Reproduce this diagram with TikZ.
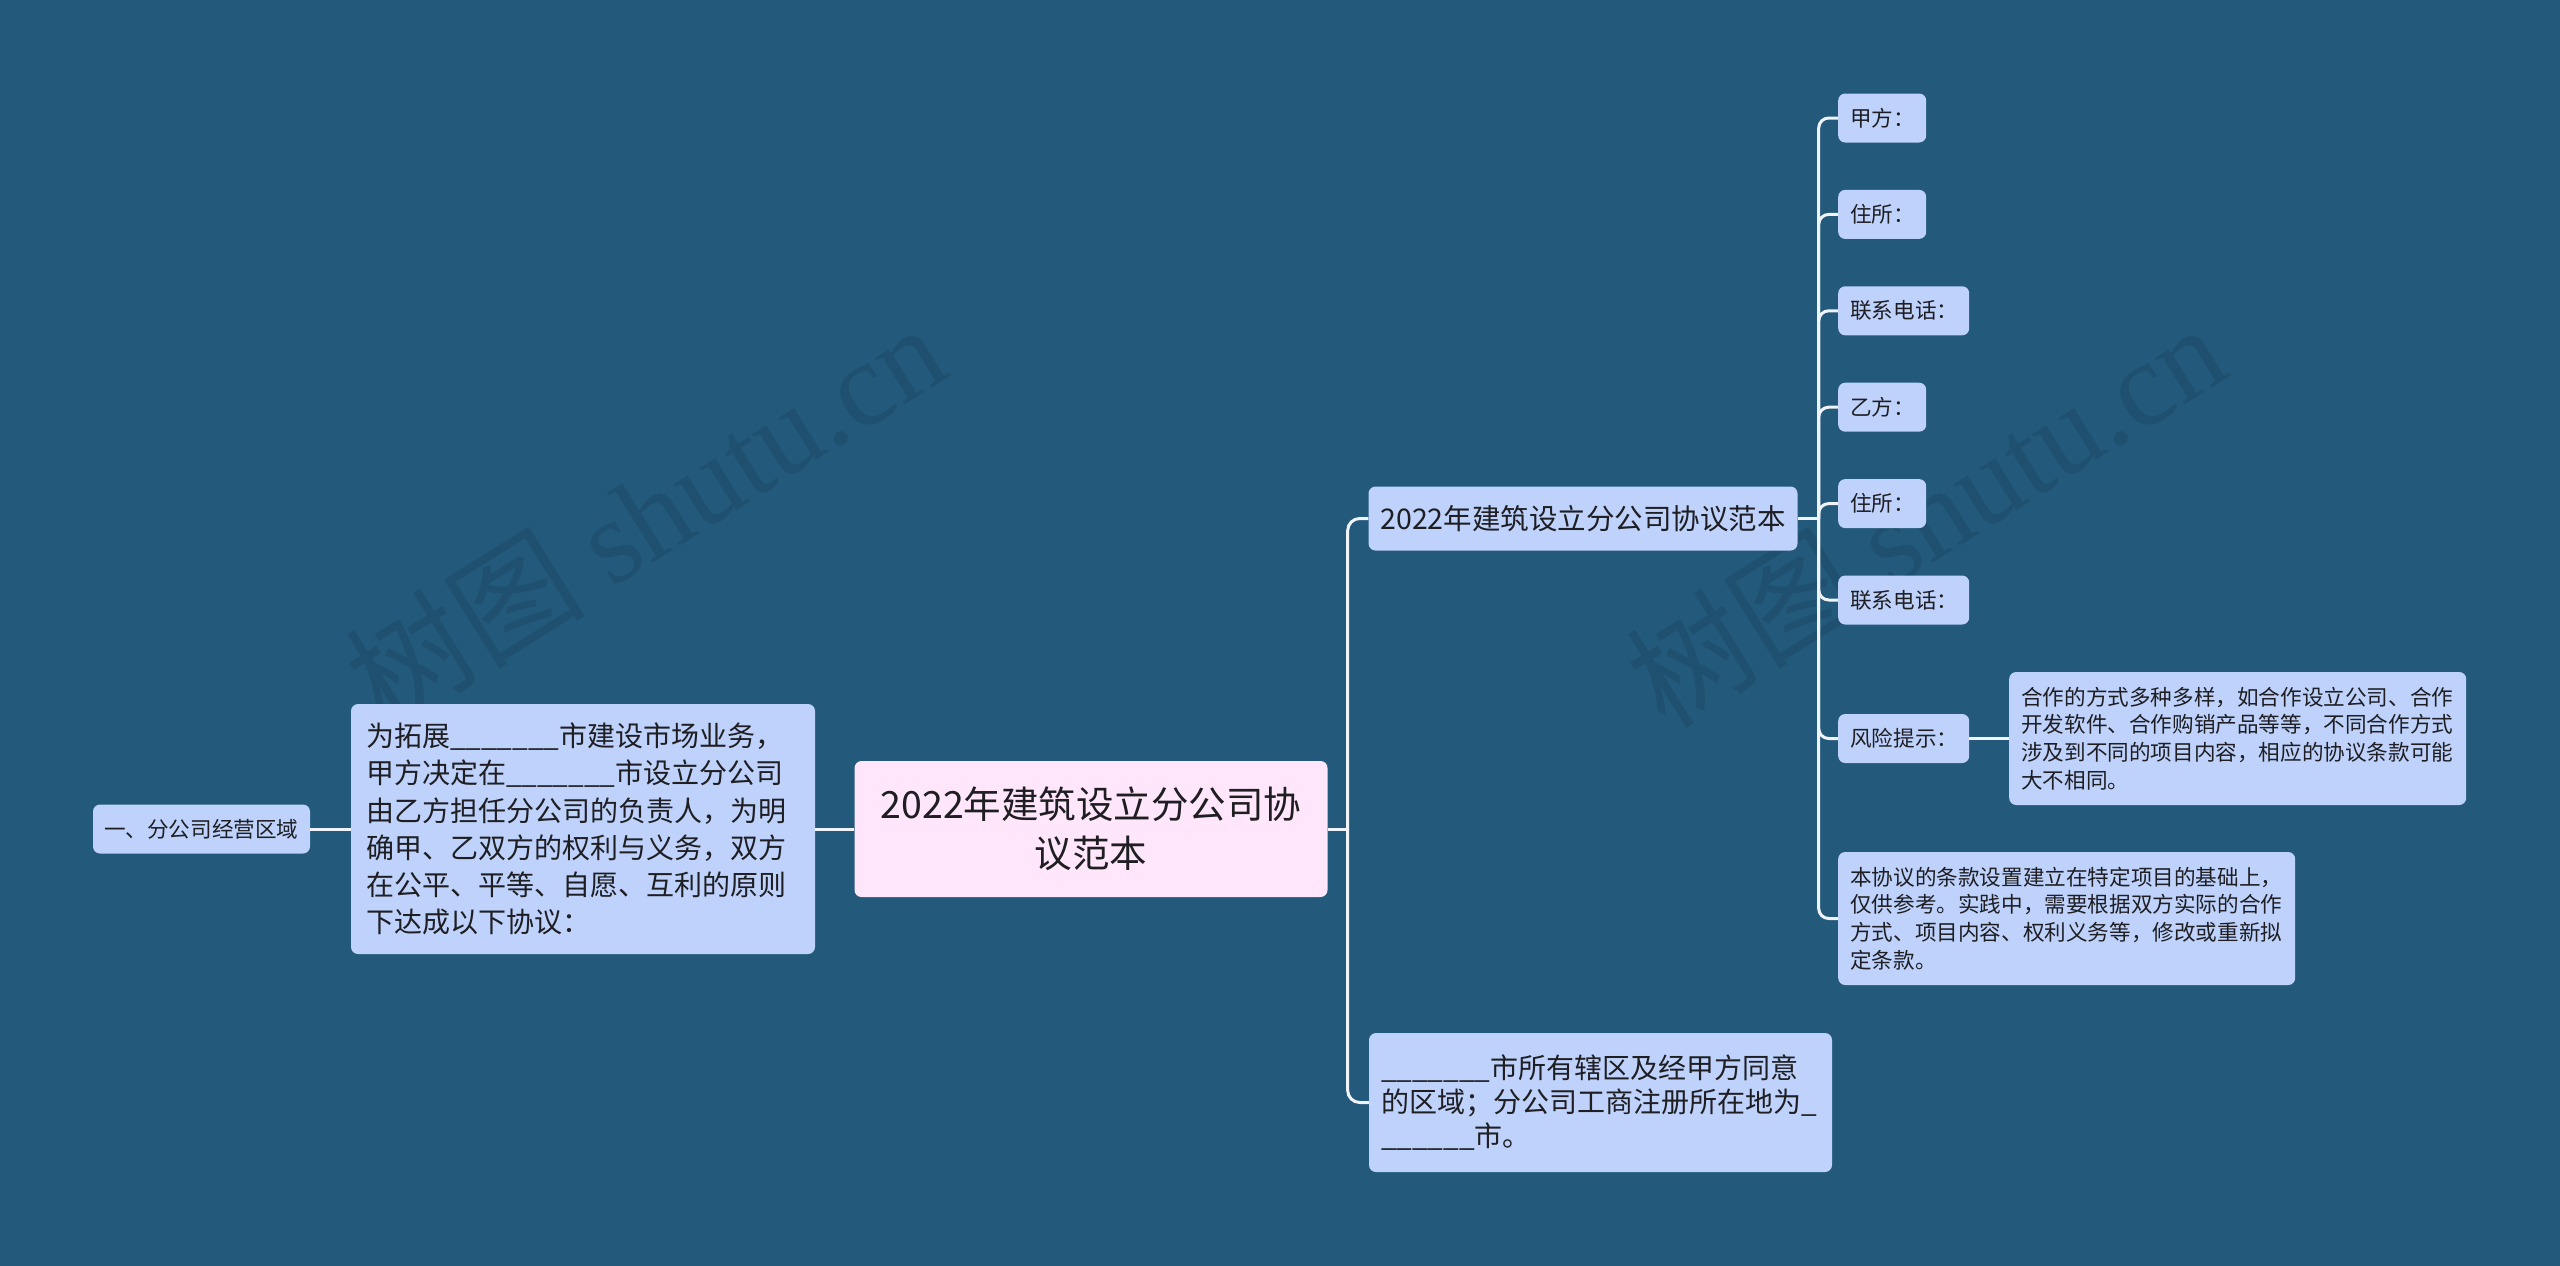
\documentclass[tikz,border=0pt]{standalone}
\usepackage{fontspec}
\setmainfont{Noto Sans CJK SC}
\newfontfamily\wmfont{Liberation Serif}
\newfontfamily\wmcjk{Noto Sans CJK SC}
\usetikzlibrary{calc}
\definecolor{bgc}{RGB}{35,89,122}
\definecolor{nodefill}{RGB}{190,210,251}
\definecolor{rootfill}{RGB}{255,230,250}
\definecolor{txt}{RGB}{30,30,35}
\definecolor{linec}{RGB}{240,244,250}
\definecolor{wmc}{RGB}{31,80,111}
\newcommand{\myblank}{\_\_\_\_\_\_\_}
\begin{document}
\begin{tikzpicture}[x=1pt,y=-1pt,
  box/.style={fill=nodefill, rounded corners=7pt, text=txt, align=left, inner ysep=0pt},
  conn/.style={draw=linec, line width=3pt},
  leafshort/.style={box, anchor=west, text width=64pt, inner xsep=12pt, minimum height=49pt, font=\fontsize{21.6}{27}\selectfont},
  leaflong/.style={box, anchor=west, text width=107pt, inner xsep=12pt, minimum height=49pt, font=\fontsize{21.6}{27}\selectfont},
  leafpara/.style={box, anchor=west, text width=433pt, inner xsep=12pt, minimum height=133pt, font=\fontsize{21.6}{27.6}\selectfont},
  wmark/.style={text=wmc, rotate=32, font=\fontsize{120}{120}\selectfont}
]
\fill[bgc] (0,0) rectangle (2560,1266);
\useasboundingbox (0,0) rectangle (2560,1266);

% watermarks
\node[wmark] (wm1) at (645,514) {{\wmcjk 树图} {\wmfont shutu.cn}};
\node[wmark] (wm2) at (1925,514) {{\wmcjk 树图} {\wmfont shutu.cn}};

% root
\node[box, fill=rootfill, align=center, text width=443pt, inner xsep=15pt, minimum height=136pt,
      font=\fontsize{37.5}{49}\selectfont] (root) at (1091,829) {2022年建筑设立分公司协\\议范本};

% left side
\node[box, text width=434pt, inner xsep=15pt, minimum height=250pt,
      font=\fontsize{28}{37.2}\selectfont] (L1) at (583,829)
  {为拓展\myblank 市建设市场业务，\\甲方决定在\myblank 市设立分公司\\由乙方担任分公司的负责人，为明\\确甲、乙双方的权利与义务，双方\\在公平、平等、自愿、互利的原则\\下达成以下协议：};
\node[box, text width=195pt, inner xsep=11pt, minimum height=49pt,
      font=\fontsize{21.6}{27}\selectfont] (L0) at (201.5,829) {一、分公司经营区域};

% right branches
\node[box, text width=405pt, inner xsep=12pt, minimum height=64pt,
      font=\fontsize{28.5}{34}\selectfont] (B1) at (1583,518.5) {2022年建筑设立分公司协议范本};
\node[box, text width=439pt, inner xsep=12pt, minimum height=139pt,
      font=\fontsize{28}{34}\selectfont] (B2) at (1600.5,1102.5)
  {\myblank 市所有辖区及经甲方同意\\的区域；分公司工商注册所在地为\_\\\_\_\_\_\_\_市。};

% leaves
\node[leafshort] (a1) at (1838,118) {甲方：};
\node[leafshort] (a2) at (1838,214.4) {住所：};
\node[leaflong]  (a3) at (1838,310.8) {联系电话：};
\node[leafshort] (a4) at (1838,407.2) {乙方：};
\node[leafshort] (a5) at (1838,503.6) {住所：};
\node[leaflong]  (a6) at (1838,600) {联系电话：};
\node[leaflong]  (risk) at (1838,738.5) {风险提示：};
\node[leafpara]  (coop) at (2009,738.5)
  {合作的方式多种多样，如合作设立公司、合作\\开发软件、合作购销产品等等，不同合作方式\\涉及到不同的项目内容，相应的协议条款可能\\大不相同。};
\node[leafpara]  (note) at (1838,918.5)
  {本协议的条款设置建立在特定项目的基础上，\\仅供参考。实践中，需要根据双方实际的合作\\方式、项目内容、权利义务等，修改或重新拟\\定条款。};

% connectors
\coordinate (s1) at ($(root.east)+(20,0)$);
\draw[conn] (root.east) -- (s1);
\draw[conn, rounded corners=12pt] (s1) |- (B1.west);
\draw[conn, rounded corners=12pt] (s1) |- (B2.west);
\draw[conn] (root.west) -- (L1.east);
\draw[conn] (L1.west) -- (L0.east);
\coordinate (s2) at ($(B1.east)+(21,0)$);
\draw[conn] (B1.east) -- (s2);
\foreach \n in {a1,a2,a3,a4,a5,a6,risk,note}
  \draw[conn, rounded corners=10pt] (s2) |- (\n.west);
\draw[conn] (risk.east) -- (coop.west);
\end{tikzpicture}
\end{document}
